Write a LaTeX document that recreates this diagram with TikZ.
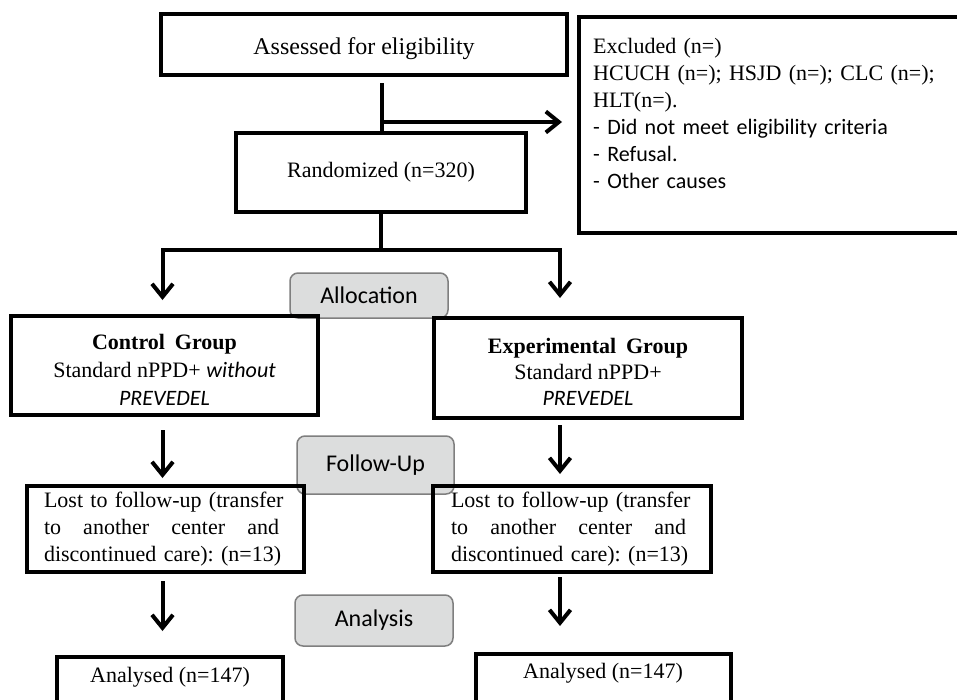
\documentclass[tikz,border=0pt]{standalone}
\usepackage{fontspec}
\setmainfont{Liberation Serif}
\newfontfamily\calib{Carlito}
\usetikzlibrary{arrows.meta}
\definecolor{lblfill}{HTML}{DCDDDD}
\definecolor{lbldraw}{HTML}{7F7F7F}
\tikzset{
  boxx/.style={draw=black, line width=4.5pt, rectangle, inner sep=0pt, outer sep=0pt,
    font=\fontsize{22}{27}\selectfont},
  grp/.style={draw=lbldraw, fill=lblfill, line width=1.5pt, rounded corners=8pt,
    inner sep=0pt, outer sep=0pt, font=\calib\fontsize{24}{28}\selectfont},
  conn/.style={line width=4pt},
  arrw/.style={line width=4pt, -{Straight Barb[length=13pt,width=21pt]}},
  txt/.style={inner sep=0pt, font=\frenchspacing\fontsize{22}{27}\selectfont}
}
\begin{document}
\begin{tikzpicture}[x=1pt,y=-1pt]
\useasboundingbox (0,0) rectangle (957,699);
\fill[white] (0,0) rectangle (957,699);

% boxes
\node[boxx, minimum width=406pt, minimum height=61pt, font=\fontsize{24}{28}\selectfont] (assess) at (364,44.5)
  {\raisebox{-4pt}[\height][\depth]{Assessed for eligibility}};
\node[boxx, anchor=north west, minimum width=390pt, minimum height=216pt] (excl) at (579,17) {};
\node[anchor=north west, inner sep=0pt, text width=360pt, align=left, font=\fontsize{22}{27}\selectfont] (excltxt) at (593,38)
  {Excluded (n=)\\ HCUCH (n=); HSJD (n=); CLC (n=);\\ HLT(n=).\\ {\calib - Did not meet eligibility criteria}\\ {\calib - Refusal.}\\ {\calib - Other causes}};
\node[boxx, minimum width=290pt, minimum height=79pt] (rand) at (381,172.5) {Randomized (n=320)};

\node[grp, minimum width=158pt, minimum height=45pt] (alloc) at (369,295.5) {Allocation};

\node[boxx, minimum width=307pt, minimum height=99pt] (ctrl) at (164.5,365.5) {};
\node[txt, align=center, font=\fontsize{22}{28}\selectfont] (ctrltxt) at (164.5,370)
  {\textbf{Control\hspace{0.45em}Group}\\ Standard nPPD+ {\calib\itshape without}\\ {\calib\itshape PREVEDEL}};
\node[boxx, minimum width=308pt, minimum height=100pt] (exper) at (588,368) {};
\node[txt, align=center, font=\fontsize{22}{26}\selectfont] (expertxt) at (588,372)
  {\textbf{Experimental\hspace{0.45em}Group}\\ Standard nPPD+\\ {\calib\itshape PREVEDEL}};

\node[grp, minimum width=157pt, minimum height=58pt] (follow) at (375.5,465) {Follow-Up};

\node[boxx, minimum width=277pt, minimum height=86pt] (lostL) at (165.5,529) {};
\node[txt, text width=235pt, align=left] (lostLtxt) at (161.5,529)
  {\mbox{Lost to follow-up (transfer}\\ \makebox[235pt][l]{to\hfill another\hfill center\hfill and}\\ \mbox{discontinued care): (n=13)}};
\node[boxx, minimum width=278pt, minimum height=86pt] (lostR) at (572,529) {};
\node[txt, text width=235pt, align=left] (lostRtxt) at (568.5,529)
  {\mbox{Lost to follow-up (transfer}\\ \makebox[235pt][l]{to\hfill another\hfill center\hfill and}\\ \mbox{discontinued care): (n=13)}};

\node[grp, minimum width=158pt, minimum height=51pt] (analysis) at (374,620.5) {Analysis};

\node[boxx, anchor=north west, minimum width=226pt, minimum height=70pt] (anL) at (57,657) {};
\node[txt] (anLt) at (170,677) {Analysed (n=147)};
\node[boxx, anchor=north west, minimum width=255pt, minimum height=70pt] (anR) at (476,654) {};
\node[txt] (anRt) at (603,673) {Analysed (n=147)};

% helper coordinates
\coordinate (j1) at (382,122);
\coordinate (j2) at (381,250);
\coordinate (cL) at (162.5,0);
\coordinate (cR) at (560,0);

% connectors
\draw[conn, shorten <=8pt] (assess.south -| j1) -- (rand.north -| j1);
\draw[arrw, shorten >=17pt] (j1) -- (excl.west |- j1);
\draw[conn] (rand.south) -- (j2);
\draw[arrw, shorten >=16pt] (j2) -| (ctrl.north -| cL);
\draw[arrw, shorten >=20pt] (j2) -| (exper.north -| cR);
\draw[arrw, shorten <=15pt, shorten >=8pt] (ctrl.south -| cL) -- (lostL.north -| cL);
\draw[arrw, shorten <=7pt, shorten >=12pt] (exper.south -| cR) -- (lostR.north -| cR);
\draw[arrw, shorten <=9pt, shorten >=26pt] (lostL.south -| cL) -- (anL.north -| cL);
\draw[arrw, shorten <=5pt, shorten >=28pt] (lostR.south -| cR) -- (anR.north -| cR);
\end{tikzpicture}
\end{document}
